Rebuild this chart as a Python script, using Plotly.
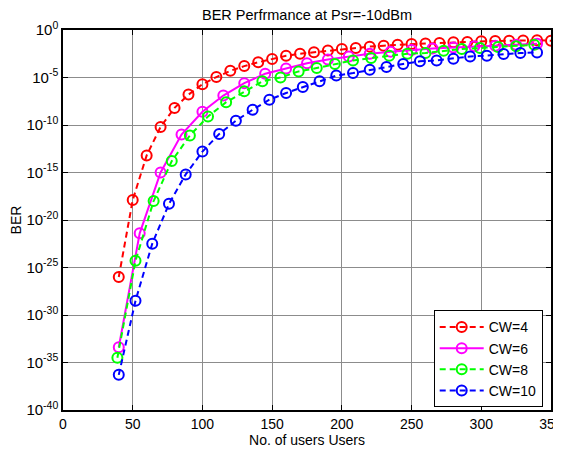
import plotly.graph_objects as go

# ---- data ----
x_cw4 = [40, 50, 60, 70, 80, 90, 100, 110, 120, 130, 140, 150, 160, 170, 180, 190,
         200, 210, 220, 230, 240, 250, 260, 270, 280, 290, 300, 310, 320, 330, 340, 350]
log_ber_cw4 = [-26.0, -17.9, -13.2, -10.2, -8.2, -6.8, -5.7, -4.95, -4.3, -3.8, -3.4, -3.05,
               -2.72, -2.5, -2.35, -2.15, -2.0, -1.9, -1.75, -1.65, -1.55, -1.48, -1.43, -1.37,
               -1.3, -1.27, -1.18, -1.16, -1.13, -1.1, -1.08, -1.14]

x_cw6 = [40, 55, 70, 85, 100, 115, 130, 145, 160, 175, 190, 205, 220, 235, 250, 265,
         280, 295, 310, 325, 340]
log_ber_cw6 = [-33.4, -21.4, -15.0, -11.0, -8.6, -6.9, -5.6, -4.6, -4.05, -3.5, -3.1, -2.8,
               -2.5, -2.3, -2.1, -1.95, -1.85, -1.72, -1.65, -1.55, -1.45]

x_cw8 = [39, 52, 65, 78, 91, 104, 117, 130, 143, 156, 169, 182, 195, 208, 221, 234,
         247, 260, 273, 286, 299, 312, 325, 338]
log_ber_cw8 = [-34.5, -24.3, -18.0, -13.8, -11.1, -9.1, -7.6, -6.46, -5.4, -5.0, -4.36, -4.0,
               -3.58, -3.2, -2.95, -2.7, -2.5, -2.42, -2.18, -2.0, -1.9, -1.79, -1.72, -1.55]

x_cw10 = [40, 52, 64, 76, 88, 100, 112, 124, 136, 148, 160, 172, 184, 196, 208, 220,
          232, 244, 256, 268, 280, 292, 304, 316, 328, 340]
log_ber_cw10 = [-36.3, -28.5, -22.5, -18.3, -15.2, -12.8, -10.95, -9.55, -8.4, -7.34, -6.63,
                -6.0, -5.4, -4.8, -4.53, -4.18, -3.9, -3.57, -3.3, -3.2, -3.02, -2.78, -2.7,
                -2.53, -2.42, -2.36]

series_names = ["CW=4", "CW=6", "CW=8", "CW=10"]
y_tick_exponents = [0, -5, -10, -15, -20, -25, -30, -35, -40]
x_tick_values = [0, 50, 100, 150, 200, 250, 300, 350]

FONT = "Liberation Sans, Arial, sans-serif"

styles = [
    dict(color="#ff0000", dash="6px,4px"),
    dict(color="#ff00ff", dash="solid"),
    dict(color="#00ff00", dash="6px,4px"),
    dict(color="#0000ff", dash="6px,4px"),
]
xs = [x_cw4, x_cw6, x_cw8, x_cw10]
ys = [log_ber_cw4, log_ber_cw6, log_ber_cw8, log_ber_cw10]

fig = go.Figure()
for name, x, ly, st in zip(series_names, xs, ys, styles):
    fig.add_trace(go.Scatter(
        x=x, y=[10 ** v for v in ly], name=name, mode="lines+markers",
        line=dict(color=st["color"], width=2, dash=st["dash"]),
        marker=dict(symbol="circle-open", size=10, color=st["color"],
                    line=dict(width=2, color=st["color"])),
    ))

# page body has an 8px default margin; figure shifted accordingly
fig.update_layout(
    width=561, height=443,
    paper_bgcolor="white", plot_bgcolor="white",
    margin=dict(l=55, r=18, t=22, b=41),
    font=dict(family=FONT, size=14, color="black"),
    title=dict(text="BER Perfrmance at Psr=-10dBm", x=0.5, xref="paper",
               xanchor="center", y=0.984, yanchor="middle",
               font=dict(family=FONT, size=14.5, color="black")),
    showlegend=True,
    legend=dict(x=0.983, y=0.007, xanchor="right", yanchor="bottom",
                bgcolor="white", bordercolor="black", borderwidth=1,
                font=dict(family=FONT, size=14, color="black"),
                itemwidth=44, tracegroupgap=0),
)

fig.update_xaxes(
    range=[0, 350], tickvals=x_tick_values, ticktext=[str(v) for v in x_tick_values],
    showgrid=True, gridcolor="#8c8c8c", gridwidth=1,
    showline=True, linecolor="black", linewidth=1.5, mirror="ticks",
    ticks="inside", ticklen=5, tickcolor="black", zeroline=False,
    automargin=False,
    title=dict(text="No. of users Users", standoff=4, font=dict(size=14)),
    tickfont=dict(size=14),
)
fig.update_yaxes(
    type="log", range=[-40, 0],
    tickvals=[10 ** e for e in y_tick_exponents],
    ticktext=["10<sup>%d</sup>" % e for e in y_tick_exponents],
    showgrid=True, gridcolor="#8c8c8c", gridwidth=1,
    showline=True, linecolor="black", linewidth=1.5, mirror="ticks",
    ticks="inside", ticklen=5, tickcolor="black", zeroline=False,
    automargin=False,
    title=dict(text="BER", standoff=8, font=dict(size=14)),
    tickfont=dict(size=15),
)

fig.write_html("out.html")
